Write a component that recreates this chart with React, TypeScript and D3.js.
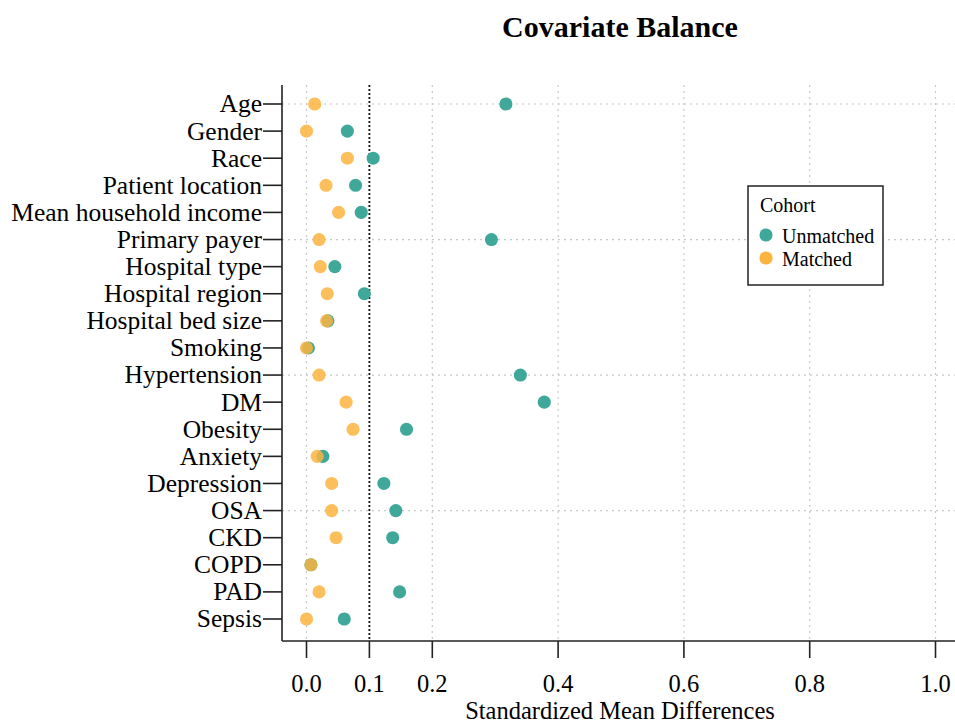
import React from 'react'
import * as d3 from 'd3'

const width = 955
const height = 725

const covariates = [
  'Age',
  'Gender',
  'Race',
  'Patient location',
  'Mean household income',
  'Primary payer',
  'Hospital type',
  'Hospital region',
  'Hospital bed size',
  'Smoking',
  'Hypertension',
  'DM',
  'Obesity',
  'Anxiety',
  'Depression',
  'OSA',
  'CKD',
  'COPD',
  'PAD',
  'Sepsis',
]
const unmatched = [
  0.317, 0.065, 0.106, 0.078, 0.087, 0.294, 0.045, 0.092, 0.034, 0.003,
  0.34, 0.378, 0.159, 0.026, 0.123, 0.142, 0.137, 0.007, 0.148, 0.06,
]
const matched = [
  0.013, 0.0, 0.065, 0.031, 0.051, 0.02, 0.022, 0.033, 0.032, 0.0,
  0.02, 0.063, 0.074, 0.017, 0.04, 0.04, 0.047, 0.007, 0.02, 0.0,
]
const xTicks = [0, 0.1, 0.2, 0.4, 0.6, 0.8, 1.0]
const xGrid = [0, 0.2, 0.4, 0.6, 0.8, 1.0]
const yGrid = ['Age', 'Primary payer', 'Hypertension', 'OSA']
const threshold = 0.1

const colors = {
  unmatched: '#3fa89a',
  matched: '#fcb43f',
}

const plot = { left: 282, right: 955, top: 85, bottom: 641 }
const font = '"Liberation Serif", "Times New Roman", serif'

export default function App() {
  const x = d3.scaleLinear().domain([0, 1]).range([306.5, 935.5])
  const y = d3.scalePoint<string>().domain(covariates).range([104, 619])
  const dot = d3.symbol().type(d3.symbolCircle).size(135)()

  return (
    <svg
      width={width}
      height={height}
      style={{ position: 'absolute', left: 0, top: 0, background: 'white' }}
      fontFamily={font}
    >
      <text
        x={620}
        y={37}
        textAnchor="middle"
        fontSize={30}
        fontWeight="bold"
      >
        Covariate Balance
      </text>

      {/* grid */}
      {xGrid.map((t) => (
        <line
          key={'gx' + t}
          x1={x(t)}
          x2={x(t)}
          y1={plot.top}
          y2={plot.bottom}
          stroke="#c8c8c8"
          strokeWidth={1.2}
          strokeDasharray="2,4"
        />
      ))}
      {yGrid.map((c) => (
        <line
          key={'gy' + c}
          x1={plot.left}
          x2={plot.right}
          y1={y(c)}
          y2={y(c)}
          stroke="#c8c8c8"
          strokeWidth={1.2}
          strokeDasharray="2,4"
        />
      ))}
      <line
        x1={x(threshold)}
        x2={x(threshold)}
        y1={plot.top}
        y2={plot.bottom}
        stroke="#111"
        strokeWidth={1.8}
        strokeDasharray="2,2"
      />

      {/* axes */}
      <line x1={plot.left} x2={plot.left} y1={plot.top} y2={plot.bottom} stroke="#222" strokeWidth={1.6} />
      <line x1={plot.left} x2={plot.right} y1={plot.bottom} y2={plot.bottom} stroke="#222" strokeWidth={1.6} />
      {covariates.map((c) => (
        <g key={c} transform={`translate(0,${y(c)})`}>
          <line x1={263} x2={plot.left} stroke="#222" strokeWidth={1.6} />
          <text x={262} dy="0.33em" textAnchor="end" fontSize={25.5}>
            {c}
          </text>
        </g>
      ))}
      {xTicks.map((t) => (
        <g key={'t' + t} transform={`translate(${x(t)},0)`}>
          <line y1={plot.bottom} y2={plot.bottom + 17} stroke="#222" strokeWidth={1.6} />
          <text y={692} textAnchor="middle" fontSize={24.5}>
            {t.toFixed(1)}
          </text>
        </g>
      ))}
      <text x={620} y={719} textAnchor="middle" fontSize={24.5}>
        Standardized Mean Differences
      </text>

      {/* points */}
      {covariates.map((c, i) => (
        <path
          key={'u' + c}
          d={dot!}
          transform={`translate(${x(unmatched[i])},${y(c)})`}
          fill={colors.unmatched}
        />
      ))}
      {covariates.map((c, i) => (
        <path
          key={'m' + c}
          d={dot!}
          transform={`translate(${x(matched[i])},${y(c)})`}
          fill={colors.matched}
          fillOpacity={0.85}
        />
      ))}

      {/* legend */}
      <rect x={748} y={186} width={135} height={99} fill="white" stroke="#222" strokeWidth={1.5} />
      <text x={760} y={212} fontSize={20}>
        Cohort
      </text>
      <path d={dot!} transform="translate(766,235)" fill={colors.unmatched} />
      <text x={782} y={243} fontSize={20}>
        Unmatched
      </text>
      <path d={dot!} transform="translate(766,258)" fill={colors.matched} />
      <text x={782} y={266} fontSize={20}>
        Matched
      </text>
    </svg>
  )
}
